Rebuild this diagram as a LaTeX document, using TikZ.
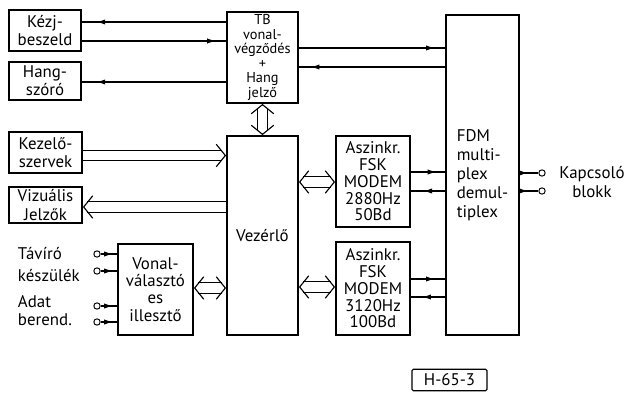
\documentclass[tikz,border=0pt]{standalone}
\usepackage{fontspec}
\setmainfont{PT Sans}
\usetikzlibrary{arrows.meta,decorations.markings}

\tikzset{
  every node/.style={font=\fontsize{12}{13}\selectfont},
  blk/.style 2 args={draw,line width=1.3pt,align=center,inner sep=1pt,
    minimum width=#1*0.025cm,minimum height=#2*0.025cm},
  wire/.style={line width=0.8pt},
  fwd/.style={wire,postaction={decorate},decoration={markings,
    mark=at position #1 with {\arrow{Latex[length=2.2mm,width=1.3mm]}}}},
  bwd/.style={wire,postaction={decorate},decoration={markings,
    mark=at position #1 with {\arrowreversed{Latex[length=2.2mm,width=1.3mm]}}}},
  bus/.style={line width=0.7pt,double distance=7pt},
  bustip/.style={white,line width=0.7pt,
    >={Straight Barb[length=6.5pt,width=16pt,line width=0.8pt,color=black]}},
  term/.style={circle,draw,line width=0.7pt,inner sep=0pt,minimum size=4.5pt},
}

\begin{document}
\begin{tikzpicture}[x=0.025cm,y=-0.025cm]
\useasboundingbox (0,0) rectangle (625,400);

% blocks
\node[blk={72}{41}] (kez) at (45,30.5) {Kézj-\\beszeld};
\node[blk={72}{38}] (hang) at (45,81) {Hang-\\szóró};
\node[blk={73}{41}] (kezelo) at (45.5,152.5) {Kezelő-\\szervek};
\node[blk={73}{36}] (viz) at (45.5,205) {Vizuális\\Jelzők};
\node[blk={71}{91},inner sep=0pt,font=\fontsize{10.2}{10.3}\selectfont] (tb) at (262.5,57.5) {TB\\vonal-\\végződés\\+\\Hang\\jelző};
\node[blk={71}{199}] (vez) at (262.5,235.5) {Vezérlő};
\node[blk={75}{91},font=\fontsize{12}{12.2}\selectfont] (vonal) at (155.5,289.5) {Vonal-\\választó\\es\\illesztő};
\node[blk={74}{91},font=\fontsize{12}{11.9}\selectfont] (mod1) at (373,181.5) {Aszinkr.\\FSK\\MODEM\\2880Hz\\50Bd};
\node[blk={74}{93},font=\fontsize{12}{11.9}\selectfont] (mod2) at (373,288.5) {Aszinkr.\\FSK\\MODEM\\3120Hz\\100Bd};
\node[blk={73}{320},align=left,font=\fontsize{12}{13.5}\selectfont] (fdm) at (482.5,175) {FDM\\multi-\\plex\\demul-\\tiplex};

% TB connections
\draw[bwd=0.1] (kez.east |- 0,22) -- (tb.west |- 0,22);
\draw[fwd=0.93] (kez.east |- 0,41) -- (tb.west |- 0,41);
\draw[bwd=0.1] (hang.east |- 0,82) -- (tb.west |- 0,82);
\draw[fwd=0.93] (tb.east |- 0,48) -- (fdm.west |- 0,48);
\draw[bwd=0.08] (tb.east |- 0,67) -- (fdm.west |- 0,67);

% modem to FDM
\draw[fwd=0.75] (mod1.east |- 0,172) -- (fdm.west |- 0,172);
\draw[bwd=0.36] (mod1.east |- 0,191) -- (fdm.west |- 0,191);
\draw[fwd=0.7] (mod2.east |- 0,279) -- (fdm.west |- 0,279);
\draw[bwd=0.33] (mod2.east |- 0,297) -- (fdm.west |- 0,297);

% buses
\draw[bus,shorten <=3pt,shorten >=3pt] (tb.south) -- (vez.north);
\draw[bustip,<->] (tb.south) -- (vez.north);
\draw[bus,shorten >=3pt] (kezelo.east |- 0,155.5) -- (vez.west |- 0,155.5);
\draw[bustip,->] (kezelo.east |- 0,155.5) -- (vez.west |- 0,155.5);
\draw[bus,shorten >=3pt] (vez.west |- 0,207) -- (viz.east |- 0,207);
\draw[bustip,->] (vez.west |- 0,207) -- (viz.east |- 0,207);
\draw[bus,shorten <=3pt,shorten >=3pt] (vonal.east |- 0,288) -- (vez.west |- 0,288);
\draw[bustip,<->] (vonal.east |- 0,288) -- (vez.west |- 0,288);
\draw[bus,shorten <=3pt,shorten >=3pt] (vez.east |- 0,182) -- (mod1.west |- 0,182);
\draw[bustip,<->] (vez.east |- 0,182) -- (mod1.west |- 0,182);
\draw[bus,shorten <=3pt,shorten >=3pt] (vez.east |- 0,287) -- (mod2.west |- 0,287);
\draw[bustip,<->] (vez.east |- 0,287) -- (mod2.west |- 0,287);

% terminals left
\node[term] (t1) at (97,254) {};
\node[term] (t2) at (97,271) {};
\node[term] (t3) at (97,306) {};
\node[term] (t4) at (97,322) {};
\foreach \t in {t1,t2,t3,t4}
  \draw[fwd=0.75] (\t) -- (vonal.west |- \t);
\node[anchor=west] (tavlbl) at (13,254) {Távíró};
\node[anchor=west] (keslbl) at (13,276) {készülék};
\node[anchor=west] (adlbl) at (13,302) {Adat};
\node[anchor=west] (berlbl) at (13,320) {berend.};

% terminals right
\node[term] (k1) at (542,173) {};
\node[term] (k2) at (542,191) {};
\draw[fwd=0.45] (fdm.east |- k1) -- (k1);
\draw[fwd=0.45] (fdm.east |- k2) -- (k2);
\node[align=center,font=\fontsize{12}{14}\selectfont] (kapcs) at (592,182) {Kapcsoló\\blokk};

\node[draw,line width=0.8pt,rounded corners=1pt,minimum width=75*0.025cm,
  minimum height=20*0.025cm] (code) at (449.5,380) {H-65-3};
\end{tikzpicture}
\end{document}
